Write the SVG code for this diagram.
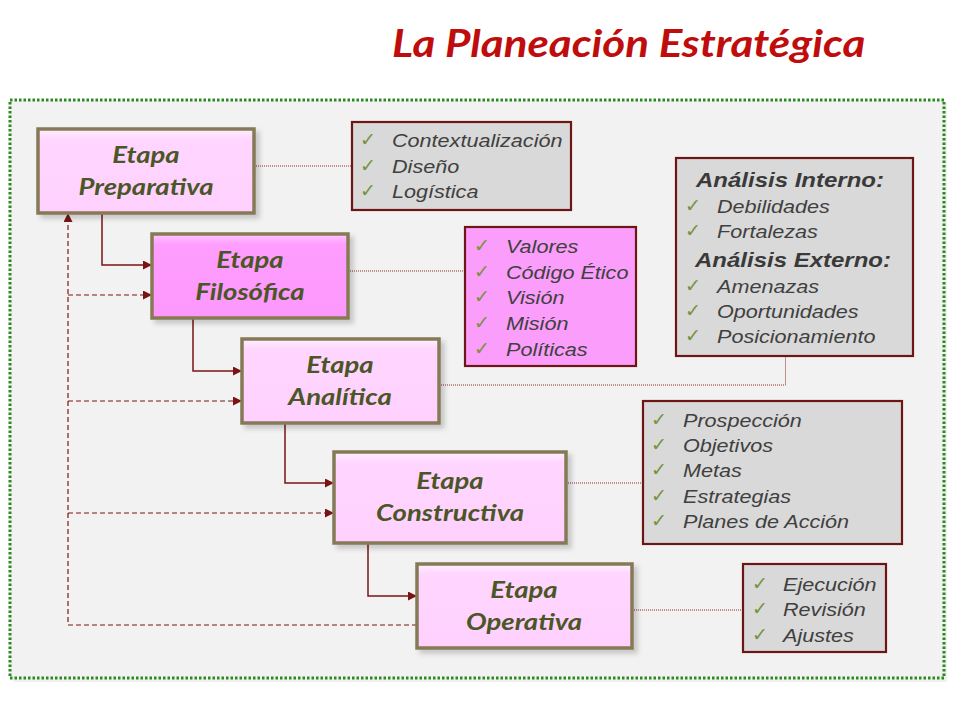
<svg xmlns="http://www.w3.org/2000/svg" width="960" height="720" viewBox="0 0 960 720">
<defs>
  <linearGradient id="gLight" x1="0" y1="0" x2="0" y2="1">
    <stop offset="0" stop-color="#fff0ff"/>
    <stop offset="0.12" stop-color="#ffd6ff"/>
    <stop offset="1" stop-color="#ffd0fe"/>
  </linearGradient>
  <linearGradient id="gStrong" x1="0" y1="0" x2="0" y2="1">
    <stop offset="0" stop-color="#ffc8ff"/>
    <stop offset="0.12" stop-color="#ff9eff"/>
    <stop offset="1" stop-color="#fd97fc"/>
  </linearGradient>
  <filter id="sh" x="-10%" y="-10%" width="130%" height="140%">
    <feDropShadow dx="4" dy="4" stdDeviation="2.5" flood-color="#000" flood-opacity="0.18"/>
  </filter>
  <marker id="arr" viewBox="0 0 10 10" refX="10" refY="5" markerWidth="9" markerHeight="9" markerUnits="userSpaceOnUse" orient="auto">
    <path d="M0,0 L10,5 L0,10 z" fill="#7a1414"/>
  </marker>
  <style>
    .title{font-family:Lato,"Liberation Sans",sans-serif;font-weight:bold;font-style:italic;font-size:38px;fill:#bf0d0d}
    .stage rect{stroke:#857a55;stroke-width:3.5}
    .stage text{font-family:Lato,"Open Sans",sans-serif;font-weight:bold;font-style:italic;font-size:22px;fill:#4a5626;text-anchor:middle}
    .list rect{stroke:#6e1515;stroke-width:2.2}
    .gray{fill:#d9d9d9}
    .pink{fill:#fb9dfb}
    .it{font-family:"Liberation Sans",Arial,sans-serif;font-style:italic;font-size:18px;fill:#404040}
    .hd{font-family:"Liberation Sans",Arial,sans-serif;font-style:italic;font-weight:bold;font-size:20px;fill:#3a3a3a;text-anchor:middle}
    .ck{font-family:"DejaVu Sans",sans-serif;font-size:19px;fill:#77933c}
    .solid{fill:none;stroke:#7a1414;stroke-width:1.5}
    .dash{fill:none;stroke:#7a1414;stroke-width:1.2;stroke-dasharray:5 3}
    .dot{fill:none;stroke:#8a3030;stroke-width:1;stroke-dasharray:1 1}
  </style>
</defs>
<rect x="0" y="0" width="960" height="720" fill="#ffffff"/>
<text class="title" transform="translate(392,57) scale(1.155,1)">La Planeación Estratégica</text>

<g id="frame">
  <rect x="13" y="103" width="934" height="579" fill="#e6e6e6" opacity="0.6"/>
  <rect x="10" y="100" width="934" height="578" fill="#f2f2f2" stroke="#2a8a1e" stroke-width="3" stroke-dasharray="2.5 2"/>
</g>

<g id="connectors">
  <path class="solid" d="M102,213 V265 H152" marker-end="url(#arr)"/>
  <path class="solid" d="M193,318 V371 H242" marker-end="url(#arr)"/>
  <path class="solid" d="M285,423 V483 H334" marker-end="url(#arr)"/>
  <path class="solid" d="M368,543 V596 H417" marker-end="url(#arr)"/>
  <path class="dash" d="M417,625 H68 V213" marker-end="url(#arr)"/>
  <path class="dash" d="M68,295 H152" marker-end="url(#arr)"/>
  <path class="dash" d="M68,401 H242" marker-end="url(#arr)"/>
  <path class="dash" d="M68,513 H334" marker-end="url(#arr)"/>
  <path class="dot" d="M254,166 H352"/>
  <path class="dot" d="M348,271 H465"/>
  <path class="dot" d="M441,385 H785.5 V356"/>
  <path class="dot" d="M566,483 H643"/>
  <path class="dot" d="M632,610 H743"/>
</g>

<g id="etapa-preparativa" class="stage">
  <rect x="38" y="129" width="216" height="84" fill="url(#gLight)" filter="url(#sh)"/>
  <text transform="translate(146,163) scale(1.25,1)">Etapa</text>
  <text transform="translate(146,195) scale(1.25,1)">Preparativa</text>
</g>
<g id="etapa-filosofica" class="stage">
  <rect x="152" y="234" width="196" height="84" fill="url(#gStrong)" filter="url(#sh)"/>
  <text transform="translate(250,268) scale(1.25,1)">Etapa</text>
  <text transform="translate(250,300) scale(1.25,1)">Filosófica</text>
</g>
<g id="etapa-analitica" class="stage">
  <rect x="242" y="339" width="197" height="84" fill="url(#gLight)" filter="url(#sh)"/>
  <text transform="translate(340,373) scale(1.25,1)">Etapa</text>
  <text transform="translate(340,405) scale(1.25,1)">Analítica</text>
</g>
<g id="etapa-constructiva" class="stage">
  <rect x="334" y="452" width="232" height="91" fill="url(#gLight)" filter="url(#sh)"/>
  <text transform="translate(450,489) scale(1.25,1)">Etapa</text>
  <text transform="translate(450,521) scale(1.25,1)">Constructiva</text>
</g>
<g id="etapa-operativa" class="stage">
  <rect x="417" y="564" width="215" height="84" fill="url(#gLight)" filter="url(#sh)"/>
  <text transform="translate(524,598) scale(1.25,1)">Etapa</text>
  <text transform="translate(524,630) scale(1.25,1)">Operativa</text>
</g>

<g id="lista-preparativa" class="list">
  <rect class="gray" x="352" y="122" width="219" height="88"/>
  <text class="ck" x="360" y="146">✓</text><text class="it" transform="translate(392,147) scale(1.2,1)">Contextualización</text>
  <text class="ck" x="360" y="172">✓</text><text class="it" transform="translate(392,173) scale(1.2,1)">Diseño</text>
  <text class="ck" x="360" y="197">✓</text><text class="it" transform="translate(392,198) scale(1.2,1)">Logística</text>
</g>
<g id="lista-filosofica" class="list">
  <rect class="pink" x="465" y="227" width="171" height="139"/>
  <text class="ck" x="474" y="252">✓</text><text class="it" transform="translate(506,253) scale(1.2,1)">Valores</text>
  <text class="ck" x="474" y="278">✓</text><text class="it" transform="translate(506,279) scale(1.2,1)">Código Ético</text>
  <text class="ck" x="474" y="303">✓</text><text class="it" transform="translate(506,304) scale(1.2,1)">Visión</text>
  <text class="ck" x="474" y="329">✓</text><text class="it" transform="translate(506,330) scale(1.2,1)">Misión</text>
  <text class="ck" x="474" y="355">✓</text><text class="it" transform="translate(506,356) scale(1.2,1)">Políticas</text>
</g>
<g id="lista-analitica" class="list">
  <rect class="gray" x="676" y="158" width="237" height="198"/>
  <text class="hd" transform="translate(790,187) scale(1.2,1)">Análisis Interno:</text>
  <text class="ck" x="685" y="212">✓</text><text class="it" transform="translate(717,213) scale(1.2,1)">Debilidades</text>
  <text class="ck" x="685" y="237">✓</text><text class="it" transform="translate(717,238) scale(1.2,1)">Fortalezas</text>
  <text class="hd" transform="translate(793,267) scale(1.2,1)">Análisis Externo:</text>
  <text class="ck" x="685" y="292">✓</text><text class="it" transform="translate(717,293) scale(1.2,1)">Amenazas</text>
  <text class="ck" x="685" y="317">✓</text><text class="it" transform="translate(717,318) scale(1.2,1)">Oportunidades</text>
  <text class="ck" x="685" y="342">✓</text><text class="it" transform="translate(717,343) scale(1.2,1)">Posicionamiento</text>
</g>
<g id="lista-constructiva" class="list">
  <rect class="gray" x="643" y="401" width="259" height="143"/>
  <text class="ck" x="651" y="426">✓</text><text class="it" transform="translate(683,427) scale(1.2,1)">Prospección</text>
  <text class="ck" x="651" y="451">✓</text><text class="it" transform="translate(683,452) scale(1.2,1)">Objetivos</text>
  <text class="ck" x="651" y="476">✓</text><text class="it" transform="translate(683,477) scale(1.2,1)">Metas</text>
  <text class="ck" x="651" y="502">✓</text><text class="it" transform="translate(683,503) scale(1.2,1)">Estrategias</text>
  <text class="ck" x="651" y="527">✓</text><text class="it" transform="translate(683,528) scale(1.2,1)">Planes de Acción</text>
</g>
<g id="lista-operativa" class="list">
  <rect class="gray" x="743" y="564" width="143" height="88"/>
  <text class="ck" x="752" y="590">✓</text><text class="it" transform="translate(783,591) scale(1.2,1)">Ejecución</text>
  <text class="ck" x="752" y="615">✓</text><text class="it" transform="translate(783,616) scale(1.2,1)">Revisión</text>
  <text class="ck" x="752" y="641">✓</text><text class="it" transform="translate(783,642) scale(1.2,1)">Ajustes</text>
</g>
</svg>
